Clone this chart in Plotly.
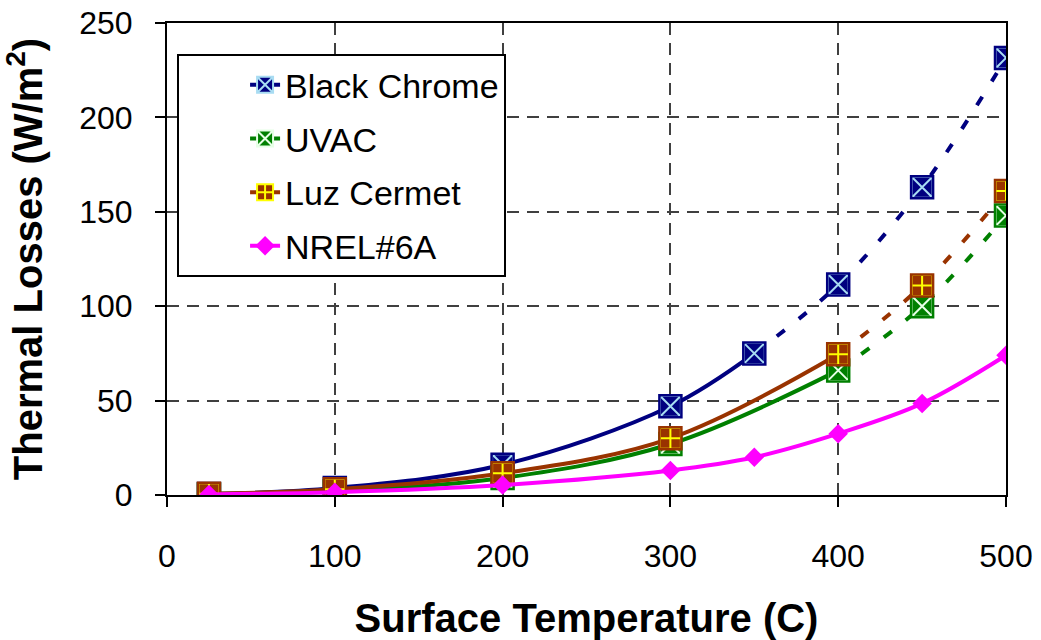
import plotly.graph_objects as go

# Surface temperature (C) at which each coating was evaluated
temps_bc = [25, 100, 200, 300, 350, 400, 450, 500]
temps_uv = [25, 100, 200, 300, 400, 450, 500]
temps_luz = [25, 100, 200, 300, 400, 450, 500]
temps_nrel = [25, 100, 200, 300, 350, 400, 450, 500]

# Thermal losses (W/m2)
black_chrome = [0.5, 3.7, 16, 47, 75, 111.5, 163, 231.5]
uvac = [0.3, 2, 9, 27, 66, 100, 148]
luz_cermet = [0.6, 3, 11.5, 30, 74.5, 111, 161]
nrel_6a = [0.3, 1.5, 5.3, 13, 20, 32.5, 48.5, 74]

# Last measured point per series; beyond it the curve is extrapolated (dashed)
solid_until = {"bc": 350, "uv": 400, "luz": 400}

series = [
    dict(key="bc", name="Black Chrome", x=temps_bc, y=black_chrome, color="#000080",
         symbol="square-x", mline="#A8DCF2", size=21),
    dict(key="uv", name="UVAC", x=temps_uv, y=uvac, color="#008000",
         symbol="square-x", mline="#E6FFE6", size=21),
    dict(key="luz", name="Luz Cermet", x=temps_luz, y=luz_cermet, color="#993300",
         symbol="square-cross", mline="#FFFF00", size=21),
    dict(key="nrel", name="NREL#6A", x=temps_nrel, y=nrel_6a, color="#FF00FF",
         symbol="diamond", mline="#FF00FF", size=15),
]

fig = go.Figure()

for s in series:
    boxed = s["key"] != "nrel"
    marker = dict(symbol=s["symbol"], size=s["size"], color=s["color"],
                  line=dict(color=s["mline"], width=2 if boxed else 0))
    cut = solid_until.get(s["key"])
    if cut is None:
        xs, ys = s["x"], s["y"]
        xd, yd = [], []
    else:
        i = s["x"].index(cut)
        xs, ys = s["x"][: i + 1], s["y"][: i + 1]
        xd, yd = s["x"][i:], s["y"][i:]
    # measured part: solid line (this is the legend entry)
    fig.add_trace(go.Scatter(
        x=xs, y=ys, mode="lines+markers", name=s["name"], legendgroup=s["key"],
        line=dict(color=s["color"], width=4, shape="spline"),
        marker=marker,
    ))
    if xd:
        # extrapolated part: dashed line
        fig.add_trace(go.Scatter(
            x=xd, y=yd, mode="lines+markers", name=s["name"] + " (extrapolated)",
            showlegend=False, legendgroup=s["key"],
            line=dict(color=s["color"], width=4, dash="10px,18px", shape="spline"),
            marker=marker,
        ))
    if boxed:
        # square outline in the series colour over each marker's edge
        fig.add_trace(go.Scatter(
            x=s["x"], y=s["y"], mode="markers", name=s["name"], showlegend=False,
            legendgroup=s["key"], hoverinfo="skip",
            marker=dict(symbol="square-open", size=s["size"] + 1,
                        color=s["color"], line=dict(color=s["color"], width=2.5)),
        ))

font_family = "Liberation Sans, Arial, sans-serif"
axis_font = dict(family=font_family, size=32, color="#000000")
title_font = dict(family=font_family, size=40, color="#000000")

fig.update_layout(
    width=1041,
    height=640,
    margin=dict(l=167, r=35, t=23, b=145),
    paper_bgcolor="white",
    plot_bgcolor="white",
    showlegend=True,
    legend=dict(
        x=0.012, y=0.934, xanchor="left", yanchor="top",
        bgcolor="white", bordercolor="#000000", borderwidth=2,
        font=dict(family=font_family, size=34, color="#000000"),
        traceorder="grouped", tracegroupgap=6.5, indentation=66,
    ),
    xaxis=dict(
        range=[0, 500], tickmode="linear", tick0=0, dtick=100,
        ticks="outside", ticklen=10, tickwidth=2, tickcolor="#000000",
        showline=True, linecolor="#000000", linewidth=2, mirror=True,
        showgrid=True, gridcolor="#404040", gridwidth=1.5, griddash="12px,8px",
        zeroline=False, tickfont=axis_font, ticklabelstandoff=22, automargin=False,
        title=dict(text="<b>Surface Temperature (C)</b>", font=title_font, standoff=36),
    ),
    yaxis=dict(
        range=[0, 250], tickmode="linear", tick0=0, dtick=50,
        ticks="outside", ticklen=10, tickwidth=2, tickcolor="#000000",
        showline=True, linecolor="#000000", linewidth=2, mirror=True,
        showgrid=True, gridcolor="#404040", gridwidth=1.5, griddash="12px,8px",
        zeroline=False, tickfont=axis_font, ticklabelstandoff=16, automargin=False,
        title=dict(text="<b>Thermal Losses (W/m<sup>2</sup>)</b>", font=title_font, standoff=26),
    ),
)

fig.write_html("out.html")
